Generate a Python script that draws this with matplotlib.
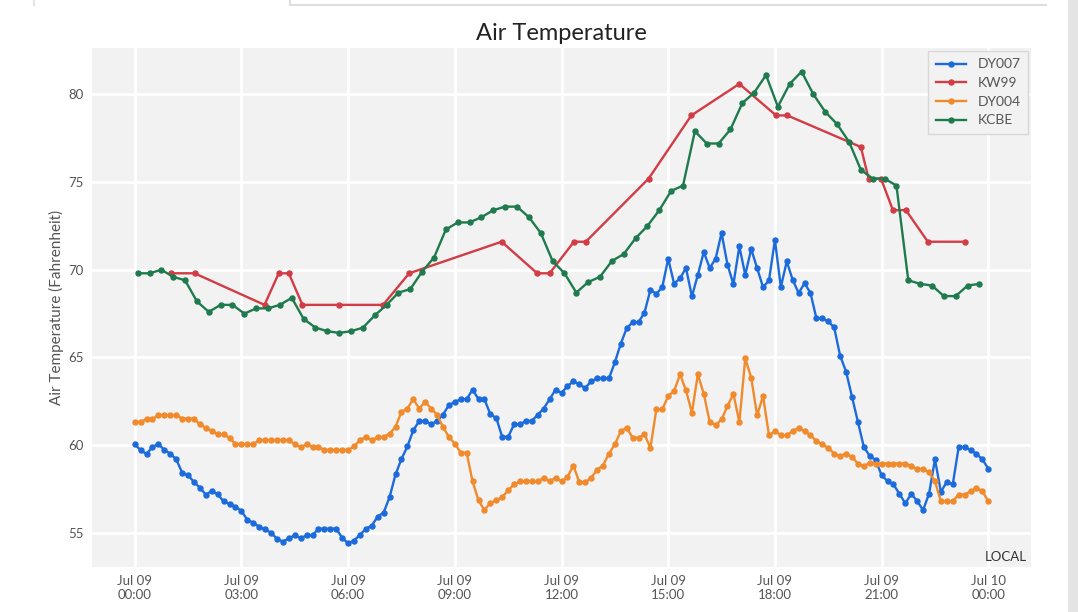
import matplotlib
matplotlib.use('Agg')
import matplotlib.pyplot as plt
import matplotlib.dates as mdates
from matplotlib.lines import Line2D
from matplotlib.patches import Rectangle
import pandas as pd

# --- data ---
day = '2021-07-09'

# DY007 / DY004 : one reading every 10 minutes from 00:00 to 24:00
dy007 = [60.06, 59.71, 59.50, 59.90, 60.06, 59.73, 59.52, 59.20, 58.44, 58.29,
         57.90, 57.58, 57.18, 57.39, 57.20, 56.80, 56.65, 56.50, 56.25, 55.75,
         55.58, 55.35, 55.20, 55.01, 54.67, 54.50, 54.69, 54.86, 54.69, 54.86,
         54.86, 55.24, 55.24, 55.24, 55.24, 54.72, 54.40,
         54.56, 54.89, 55.23, 55.42, 55.93, 56.16, 57.04, 58.33, 59.21, 59.93,
         60.85, 61.38, 61.38, 61.19, 61.38, 61.74, 62.28, 62.47, 62.62, 62.62,
         63.17, 62.62, 62.62, 61.76, 61.55, 60.47, 60.47, 61.19, 61.19, 61.38,
         61.38, 61.74, 62.09, 62.62, 63.17, 62.98, 63.36,
         63.64, 63.47, 63.26, 63.64, 63.81, 63.81, 63.81, 64.72, 65.79, 66.67,
         67.01, 67.01, 67.56, 68.86, 68.63, 69.01, 70.63, 69.20, 69.52, 70.10,
         68.48, 69.71, 71.01, 70.10, 70.63, 72.10, 70.29, 69.18, 71.33, 69.71,
         71.18, 70.10, 69.01, 69.39, 71.71, 69.01, 70.48,
         69.42, 68.68, 69.23, 68.68, 67.23, 67.23, 67.06, 66.71, 65.10, 64.20,
         62.77, 61.34, 59.90, 59.38, 59.15, 58.28, 57.95, 57.76, 57.23, 56.68,
         57.23, 56.81, 56.30, 57.23, 59.19, 57.34, 57.91, 57.76, 59.90, 59.90,
         59.72, 59.51, 59.19, 58.66]

dy004 = [61.33, 61.33, 61.49, 61.49, 61.71, 61.71, 61.71, 61.71, 61.52, 61.52,
         61.52, 61.18, 60.99, 60.82, 60.61, 60.61, 60.42, 60.06, 60.06, 60.06,
         60.06, 60.29, 60.29, 60.29, 60.29, 60.29, 60.29, 60.06, 59.87, 60.06,
         59.90, 59.90, 59.73, 59.73, 59.73, 59.73, 59.73,
         59.93, 60.28, 60.47, 60.28, 60.47, 60.47, 60.66, 61.04, 61.90, 62.09,
         62.62, 62.09, 62.47, 62.09, 61.74, 61.04, 60.47, 60.09, 59.57, 59.57,
         57.93, 56.85, 56.31, 56.70, 56.85, 57.04, 57.42, 57.76, 57.93, 57.93,
         57.93, 57.93, 58.14, 57.93, 58.14, 57.93, 58.18,
         58.84, 57.89, 57.89, 58.13, 58.61, 58.84, 59.52, 60.04, 60.80, 60.99,
         60.42, 60.42, 60.61, 59.85, 62.04, 62.04, 62.80, 63.09, 64.04, 63.12,
         61.85, 64.04, 62.93, 61.33, 61.14, 61.47, 62.23, 62.93, 61.31, 64.95,
         63.85, 61.70, 62.80, 60.57, 60.80, 60.57, 60.57, 60.80, 60.99, 60.80,
         60.57, 60.23, 60.04, 59.85, 59.52, 59.37, 59.52, 59.33, 58.95, 58.80,
         58.99, 58.95, 58.95, 58.95, 58.95, 58.95, 58.95, 58.80, 58.65, 58.65,
         58.46, 57.94, 56.80, 56.80, 56.80, 57.18, 57.18, 57.37, 57.56, 57.37,
         56.80]

# KW99 : irregular reports
kw99_times = ['01:01', '01:41', '03:39', '04:03', '04:20', '04:43', '05:44',
              '06:59', '07:43', '10:19', '11:19', '11:40', '12:21', '12:41',
              '14:27', '15:39', '17:00', '18:02', '18:21', '20:25', '20:38',
              '20:59', '21:19', '21:41', '22:18', '23:20']
kw99 = [69.8, 69.8, 68.0, 69.8, 69.8, 68.0, 68.0, 68.0, 69.8, 71.6, 69.8, 69.8,
        71.6, 71.6, 75.2, 78.8, 80.6, 78.8, 78.8, 77.0, 75.2, 75.2, 73.4, 73.4,
        71.6, 71.6]

# KCBE : every 20 minutes from 00:05
kcbe = [69.8, 69.8, 70.0, 69.6, 69.4, 68.2, 67.6, 68.0, 68.0, 67.5, 67.8, 67.8,
        68.0, 68.4, 67.2, 66.7, 66.5, 66.4, 66.5,
        66.7, 67.4, 68.0, 68.7, 68.9, 69.9, 70.7, 72.3, 72.7, 72.7, 73.0, 73.4,
        73.6, 73.6, 73.0, 72.1, 70.5, 69.8,
        68.7, 69.3, 69.6, 70.5, 70.9, 71.8, 72.5, 73.4, 74.5, 74.8, 77.9, 77.2,
        77.2, 78.0, 79.5, 80.1, 81.1, 79.3, 80.6,
        81.3, 80.0, 79.0, 78.3, 77.3, 75.7, 75.2, 75.2, 74.8, 69.4, 69.2, 69.1,
        68.5, 68.5, 69.1, 69.2]

t10 = pd.date_range(day + ' 00:00', periods=len(dy007), freq='10min')
t_kcbe = pd.date_range(day + ' 00:05', periods=len(kcbe), freq='20min')
t_kw99 = pd.to_datetime([day + ' ' + s for s in kw99_times])

colors = {'DY007': '#1c6bdc', 'KW99': '#d23c45', 'DY004': '#f08a2c', 'KCBE': '#1f7a4d'}

plt.rcParams['font.family'] = ['Lato', 'DejaVu Sans']

fig = plt.figure(figsize=(10.78, 6.12), dpi=100)
fig.patch.set_facecolor('white')

# screenshot frame bits
fig.add_artist(Rectangle((1068 / 1078, 0), 10 / 1078, 1, transform=fig.transFigure,
                         facecolor='#e4e4e4', edgecolor='none'))
fig.add_artist(Line2D([290 / 1078, 1046 / 1078], [1 - 5 / 612, 1 - 5 / 612],
                      transform=fig.transFigure, color='#dcdfe0', lw=1.5))
fig.add_artist(Line2D([290 / 1078, 290 / 1078], [1, 1 - 5 / 612],
                      transform=fig.transFigure, color='#dcdfe0', lw=1.5))
fig.add_artist(Line2D([34 / 1078, 34 / 1078], [1, 1 - 5 / 612],
                      transform=fig.transFigure, color='#e4e4e4', lw=1.5))

ax = fig.add_axes([92 / 1078, 45 / 612, 939 / 1078, 519 / 612])
ax.set_facecolor('#f2f2f2')
for s in ax.spines.values():
    s.set_visible(False)
ax.grid(True, color='white', lw=2)
ax.set_axisbelow(True)

kw = dict(marker='o', markersize=3.6, lw=1.7)
ax.plot(t10, dy007, color=colors['DY007'], label='DY007', **kw)
ax.plot(t_kw99, kw99, color=colors['KW99'], label='KW99', **kw)
ax.plot(t10, dy004, color=colors['DY004'], label='DY004', **kw)
ax.plot(t_kcbe, kcbe, color=colors['KCBE'], label='KCBE', **kw)

ax.set_yticks([55, 60, 65, 70, 75, 80])
ax.xaxis.set_major_locator(mdates.HourLocator(byhour=range(0, 24, 3)))
ax.xaxis.set_major_formatter(mdates.DateFormatter('%b %d\n%H:%M'))
ax.tick_params(length=0, labelsize=9.5, labelcolor='#555555', pad=6)

ax.set_title('Air Temperature', fontsize=17, color='#222222', pad=6)
ax.set_ylabel('Air Temperature (Fahrenheit)', fontsize=11, color='#555555', labelpad=3)
ax.text(0.996, 0.008, 'LOCAL', transform=ax.transAxes, ha='right', va='bottom',
        fontsize=9.5, color='#333333')

leg = ax.legend(loc='upper right', fontsize=10, handlelength=2.2, borderpad=0.55,
                labelspacing=0.48, borderaxespad=0.2, framealpha=1,
                facecolor='#f2f2f2', edgecolor='#d8d8d8', fancybox=False)
for t in leg.get_texts():
    t.set_color('#555555')

fig.savefig('out.png', dpi=100)
